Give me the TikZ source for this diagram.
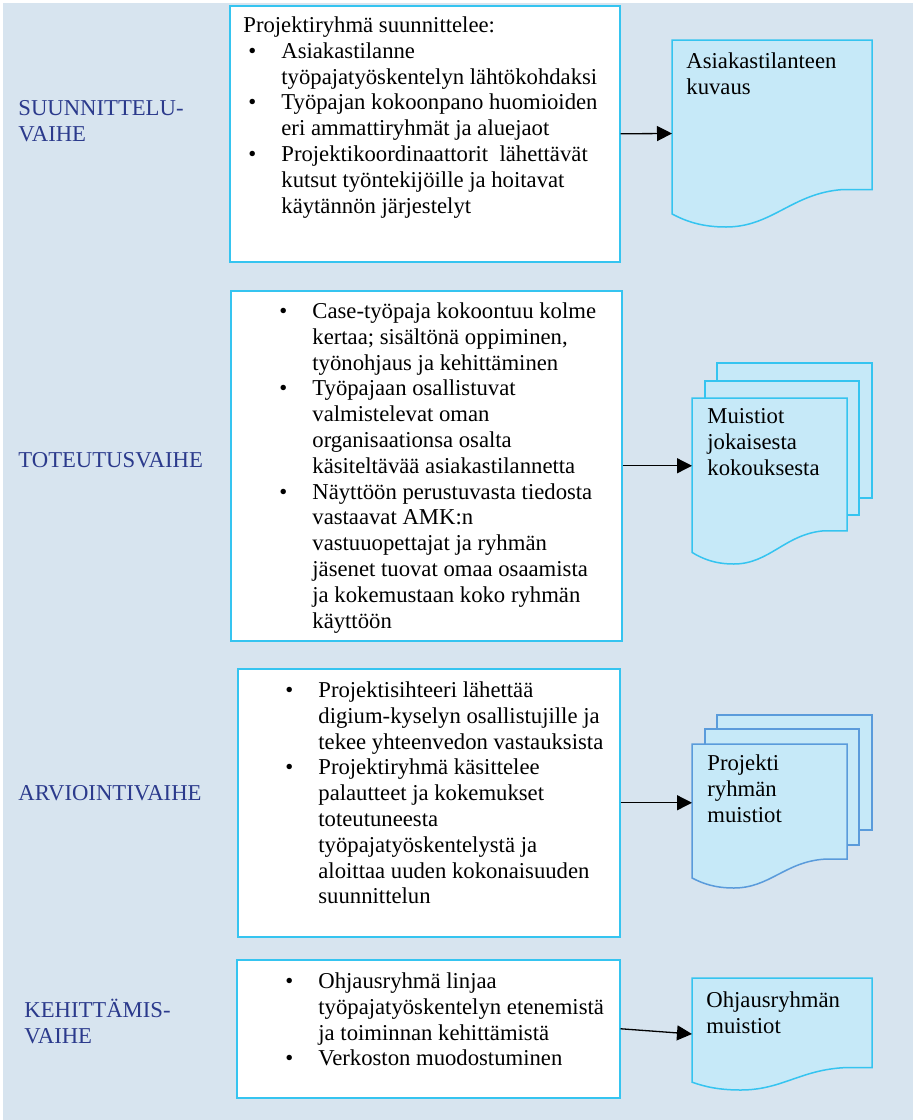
\documentclass[tikz,border=0pt]{standalone}
\usepackage{fontspec}
\setmainfont{Liberation Serif}
\usetikzlibrary{arrows.meta,calc,positioning}
\definecolor{Backdrop}{HTML}{D7E4EF}
\definecolor{Cyan}{HTML}{35C4F0}
\definecolor{PageBlue}{HTML}{C6E9F8}
\definecolor{EdgeBlue}{HTML}{5A9BDB}
\definecolor{Phase}{HTML}{2B3A8C}
\newcommand{\bodysize}{\fontsize{11.35pt}{12.9pt}\selectfont}
\newcommand{\bl}{\makebox[16.5pt][l]{\textbullet}}
\newcommand{\lines}[1]{\begin{tabular}{@{}l@{}}#1\end{tabular}}
% page outline with a wavy lower edge, fitted to node #1
\newcommand{\wavepage}[1]{%
  let \p1=(#1.north west), \p2=(#1.south east),
      \n1={\x2-\x1}, \n2={\y1-\y2} in
  (\p1) -- (\x2,\y1) -- (\x2,{\y2+0.2*\n2}) -- ({\x2-0.15*\n1},{\y2+0.2*\n2})
  .. controls ({\x2-0.4*\n1},{\y2+0.18*\n2}) and ({\x1+0.5*\n1},\y2) .. ({\x1+0.27*\n1},\y2)
  .. controls ({\x1+0.15*\n1},\y2) and ({\x1+0.07*\n1},{\y2+0.03*\n2}) .. (\x1,{\y2+0.07*\n2}) -- cycle}
\tikzset{
  stepbox/.style={draw=Cyan, line width=0.75pt, fill=white, anchor=north west, inner sep=0pt},
  sheet/.style={anchor=north west, inner sep=0pt, outer sep=0pt},
  sheetline/.style={draw=Cyan, fill=PageBlue, line width=0.75pt},
  phase/.style={text=Phase, anchor=north west, inner sep=0pt},
  listtext/.style={inner sep=0pt},
  flow/.style={-{Triangle[length=7.5pt,width=7.5pt]}, line width=0.65pt},
}

\begin{document}
\begin{tikzpicture}[x=0.5pt, y=-0.5pt, font=\bodysize]
  \useasboundingbox (0,0) rectangle (913,1120);
  \fill[Backdrop] (3,3) rectangle (913,1120);

  % phase boxes
  \node[stepbox, minimum width=195pt, minimum height=128pt] (box1) at (229,5) {};
  \node[stepbox, minimum width=195.5pt, minimum height=175pt] (box2) at (230,290) {};
  \node[stepbox, minimum width=191pt, minimum height=134pt] (box3) at (237,668) {};
  \node[stepbox, minimum width=191.5pt, minimum height=69pt] (box4) at (236,959) {};

  % documents
  \draw[sheetline] (717,363) rectangle (872,498);
  \draw[sheetline] (705,381) rectangle (859,515);
  \draw[sheetline, draw=EdgeBlue] (717,715) rectangle (872,830);
  \draw[sheetline, draw=EdgeBlue] (705,729) rectangle (859,845);
  \node[sheet, minimum width=100pt, minimum height=93.5pt] (doc1) at (672,40) {};
  \node[sheet, minimum width=77.5pt, minimum height=83pt] (doc2) at (692,398) {};
  \node[sheet, minimum width=77.5pt, minimum height=72pt] (doc3) at (692,744) {};
  \node[sheet, minimum width=90pt, minimum height=56pt] (doc4) at (692,978) {};
  \draw[sheetline] \wavepage{doc1};
  \draw[sheetline] \wavepage{doc2};
  \draw[sheetline, draw=EdgeBlue] \wavepage{doc3};
  \draw[sheetline] \wavepage{doc4};
  \node[listtext, below right=5pt and 7pt of doc1.north west] (note1) {\lines{Asiakastilanteen\\kuvaus}};
  \node[listtext, below right=3.5pt and 7.5pt of doc2.north west] (note2) {\lines{Muistiot\\jokaisesta\\kokouksesta}};
  \node[listtext, below right=4pt and 7.5pt of doc3.north west] (note3) {\lines{Projekti\\ryhmän\\muistiot}};
  \node[listtext, below right=5.5pt and 7pt of doc4.north west] (note4) {\lines{Ohjausryhmän\\muistiot}};

  % phase names
  \node[phase] (ph1) at (18,97) {\lines{SUUNNITTELU-\\VAIHE}};
  \node[phase] (ph2) at (18,449) {\lines{TOTEUTUSVAIHE}};
  \node[phase] (ph3) at (18,782) {\lines{ARVIOINTIVAIHE}};
  \node[phase] (ph4) at (24,999) {\lines{KEHITTÄMIS-\\VAIHE}};

  % box contents
  \node[listtext, below right=4.5pt and 7pt of box1.north west] (list1) {%
    \begin{tabular}{@{}l@{}l@{}}
      \multicolumn{2}{@{}l@{}}{Projektiryhmä suunnittelee:}\\
      \hspace*{2.5pt}\bl & Asiakastilanne\\
      & työpajatyöskentelyn lähtökohdaksi\\
      \hspace*{2.5pt}\bl & Työpajan kokoonpano huomioiden\\
      & eri ammattiryhmät ja aluejaot\\
      \hspace*{2.5pt}\bl & Projektikoordinaattorit\ \ lähettävät\\
      & kutsut työntekijöille ja hoitavat\\
      & käytännön järjestelyt
    \end{tabular}};
  \node[listtext, below right=5pt and 24.5pt of box2.north west] (list2) {%
    \begin{tabular}{@{}l@{}l@{}}
      \bl & Case-työpaja kokoontuu kolme\\
      & kertaa; sisältönä oppiminen,\\
      & työnohjaus ja kehittäminen\\
      \bl & Työpajaan osallistuvat\\
      & valmistelevat oman\\
      & organisaationsa osalta\\
      & käsiteltävää asiakastilannetta\\
      \bl & Näyttöön perustuvasta tiedosta\\
      & vastaavat AMK:n\\
      & vastuuopettajat ja ryhmän\\
      & jäsenet tuovat omaa osaamista\\
      & ja kokemustaan koko ryhmän\\
      & käyttöön
    \end{tabular}};
  \node[listtext, below right=5.5pt and 24pt of box3.north west] (list3) {%
    \begin{tabular}{@{}l@{}l@{}}
      \bl & Projektisihteeri lähettää\\
      & digium-kyselyn osallistujille ja\\
      & tekee yhteenvedon vastauksista\\
      \bl & Projektiryhmä käsittelee\\
      & palautteet ja kokemukset\\
      & toteutuneesta\\
      & työpajatyöskentelystä ja\\
      & aloittaa uuden kokonaisuuden\\
      & suunnittelun
    \end{tabular}};
  \node[listtext, below right=5.5pt and 24.5pt of box4.north west] (list4) {%
    \begin{tabular}{@{}l@{}l@{}}
      \bl & Ohjausryhmä linjaa\\
      & työpajatyöskentelyn etenemistä\\
      & ja toiminnan kehittämistä\\
      \bl & Verkoston muodostuminen
    \end{tabular}};

  % arrows to the documents
  \draw[flow] (box1.east) -- (doc1.west);
  \draw[flow] (box2.east) -- (box2.east -| doc2.west);
  \draw[flow] (box3.east) -- (box3.east -| doc3.west);
  \draw[flow] (box4.east) -- (doc4.west);
\end{tikzpicture}
\end{document}
